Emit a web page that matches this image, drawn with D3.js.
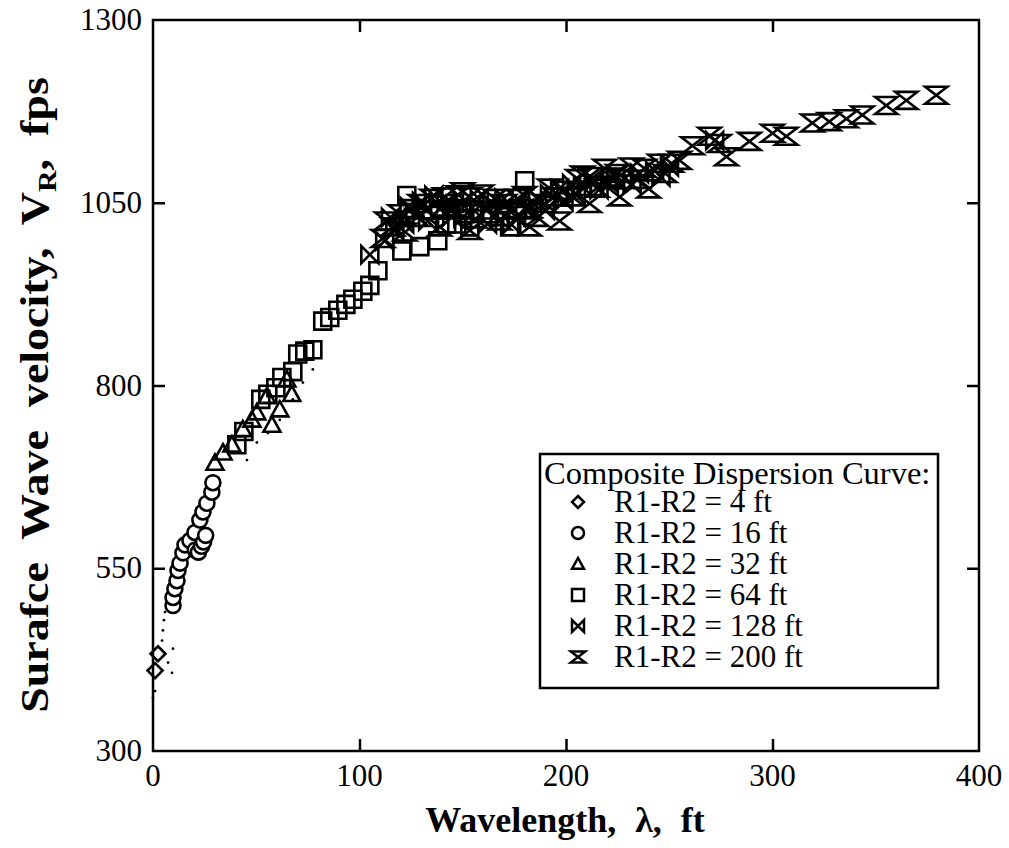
<!DOCTYPE html>
<html>
<head>
<meta charset="utf-8">
<script src="https://cdn.jsdelivr.net/npm/d3@7"></script>
<style>
	body { margin: 0; background: #fff; }
	text { font-family: "Liberation Serif", "Times New Roman", serif; fill: #000; }
</style>
</head>
<body>
<script>
// wavelength (ft), velocity (fps)
var diamond4 = [[1.0,410],[2.4,433]];
var circle16 = [[9.7,499],[9.7,510],[10.6,522],[11.6,533],[12.1,547],[13.1,557],[14.5,571],[15.5,582],
	[17.9,588],[20.3,599],[20.5,575],[22.0,572],[22.7,616],[23.5,580],[24.2,627],[24.5,586],[25.5,595],
	[26.1,639],[28.5,654],[29.0,667]];
var triangle32 = [[30,694],[33.9,708],[38.2,719],[43.5,740],[47.9,753],[50.3,763],[55.2,785],[57.6,746],
	[61.4,767],[64.8,808],[67.2,788]];
var square64 = [[40.6,719],[44.0,737],[52.2,781],[55.6,788],[59.5,797],[62.4,811],[67.7,819],[70.1,843],
	[73.5,847],[77.4,849],[82.2,888],[85.6,893],[89.5,903],[93.4,911],[96.8,918],[101.6,929],[105,937],
	[108.9,957],[120.5,984],[122.9,1060],[129.2,990],[137.9,998],[142.2,1021],[146,1049],[147.1,1021],
	[151,1035],[153.4,1017],[163,1035],[167.9,1031],[172.7,1017],[176.6,1042],[180,1080]];
var bowtie128 = [[105,979],[112.2,998],[115,1030],[117.1,1012],[121.9,1021],[124,1045],[126.8,1035],
	[130,1052],[133,1025],[136,1060],[138.8,1042],[142,1050],[144.7,1031],[149.5,1049],[150,1030],
	[155.8,1039],[158,1055],[162,1021],[164,1048],[167.9,1039],[170,1056],[173.7,1020],[176,1030],
	[180,1042],[184,1050],[186.3,1056],[190,1040],[192,1062],[196.9,1069],[199,1052],[202.7,1076],
	[205,1060],[208,1072],[213.8,1080],[216,1068],[221,1076],[224,1088],[228.4,1083],[232,1075],
	[235.6,1090],[242.9,1094],[246,1085],[250.1,1099],[272,1135]];
var hourglass200 = [[111.3,1001],[113,1025],[116.1,1017],[119.5,1035],[122,1010],[125.3,1042],[128,1030],
	[129.2,1049],[132,1040],[135,1056],[138.8,1017],[141.3,1058],[144,1040],[147.6,1061],[150,1065],
	[153.4,1058],[153.4,1012],[156,1028],[159.2,1062],[162,1040],[165.5,1056],[168,1025],[170.3,1049],
	[174,1040],[176.6,1056],[180,1060],[182.4,1042],[182.4,1017],[186,1030],[189.6,1049],[192,1070],
	[194.5,1058],[196.9,1025],[199.3,1067],[203,1058],[205.6,1083],[208,1088],[211.4,1086],[211.4,1049],
	[215,1070],[218.7,1097],[222,1085],[225,1090],[226,1058],[231.7,1099],[235,1082],[238,1097],
	[240,1069],[245.3,1104],[248,1090],[251.1,1104],[255,1108],[261.2,1128],[269.5,1141],[274.3,1131],
	[277.7,1113],[288.8,1134],[300,1145],[306.7,1141],[319.3,1159],[327.5,1161],[335.8,1165],
	[343.5,1170],[355.1,1183],[364.8,1190],[379.3,1197]];
// small dots trailing the curve
var dots = [[0,373],[1,382],[4.4,451],[4.8,465],[5.3,479],[5.8,490],[7.3,421],[9.7,440],[9.2,407],
	[45.5,698],[50.3,722],[55.6,735],[61.4,753],[67.7,781],[72.6,804],[77.4,822]];

var xTicks = [0,100,200,300,400];
var yTicks = [300,550,800,1050,1300];
var legendTitle = "Composite Dispersion Curve:";
var legendLabels = ["R1-R2 = 4 ft","R1-R2 = 16 ft","R1-R2 = 32 ft","R1-R2 = 64 ft","R1-R2 = 128 ft","R1-R2 = 200 ft"];

var W = 1009, H = 848;
var mL = 153, mR = 979, mT = 20, mB = 751;

var svg = d3.select("body").append("svg").attr("width", W).attr("height", H);
var x = d3.scaleLinear().domain([0,400]).range([mL,mR]);
var y = d3.scaleLinear().domain([300,1300]).range([mB,mT]);

// marker shapes, s = half size
var shapes = {
	diamond: function(s){ return "M0,"+(-s)+"L"+s+",0L0,"+s+"L"+(-s)+",0Z"; },
	triangle: function(s){ return "M0,"+(-s)+"L"+s+","+(s*0.8)+"L"+(-s)+","+(s*0.8)+"Z"; },
	square: function(s){ return "M"+(-s)+","+(-s)+"H"+s+"V"+s+"H"+(-s)+"Z"; },
	bowtie: function(s){ return "M"+(-s)+","+(-s)+"L"+(-s)+","+s+"L"+s+","+(-s)+"L"+s+","+s+"Z"; },
	hourglass: function(s){ return "M"+(-s*1.3)+","+(-s)+"L"+(s*1.3)+","+(-s)+"L"+(-s*1.3)+","+s+"L"+(s*1.3)+","+s+"Z"; }
};

var g = svg.append("g");

function plotPath(data, shape, s){
	g.selectAll(null).data(data).enter().append("path")
		.attr("transform", function(d){ return "translate("+x(d[0])+","+y(d[1])+")"; })
		.attr("d", shapes[shape](s))
		.attr("fill", "none").attr("stroke", "#000").attr("stroke-width", 2.6)
		.attr("stroke-linejoin", "miter");
}

g.selectAll(null).data(dots).enter().append("circle")
	.attr("cx", function(d){ return x(d[0]); }).attr("cy", function(d){ return y(d[1]); })
	.attr("r", 1.4).attr("fill", "#000");
plotPath(diamond4, "diamond", 7.5);
plotPath(triangle32, "triangle", 8.5);
plotPath(square64, "square", 8.5);
g.selectAll(null).data(circle16).enter().append("circle")
	.attr("cx", function(d){ return x(d[0]); }).attr("cy", function(d){ return y(d[1]); })
	.attr("r", 7.5).attr("fill", "#fff").attr("stroke", "#000").attr("stroke-width", 2.6);
plotPath(bowtie128, "bowtie", 8.5);
plotPath(hourglass200, "hourglass", 8.5);

// frame and inside ticks
svg.append("rect").attr("x", mL).attr("y", mT).attr("width", mR-mL).attr("height", mB-mT)
	.attr("fill", "none").attr("stroke", "#000").attr("stroke-width", 2.5);

var tk = 12;
svg.append("g").attr("transform", "translate(0,"+mB+")")
	.call(d3.axisTop(x).tickValues(xTicks.slice(1,-1)).tickSize(tk).tickFormat(""))
	.call(function(a){ a.select(".domain").remove(); });
svg.append("g").attr("transform", "translate(0,"+mT+")")
	.call(d3.axisBottom(x).tickValues(xTicks.slice(1,-1)).tickSize(tk).tickFormat(""))
	.call(function(a){ a.select(".domain").remove(); });
svg.append("g").attr("transform", "translate("+mL+",0)")
	.call(d3.axisRight(y).tickValues(yTicks.slice(1,-1)).tickSize(tk).tickFormat(""))
	.call(function(a){ a.select(".domain").remove(); });
svg.append("g").attr("transform", "translate("+mR+",0)")
	.call(d3.axisLeft(y).tickValues(yTicks.slice(1,-1)).tickSize(tk).tickFormat(""))
	.call(function(a){ a.select(".domain").remove(); });
svg.selectAll(".tick line").attr("stroke", "#000").attr("stroke-width", 2.5);

// tick labels
svg.selectAll(null).data(xTicks).enter().append("text")
	.attr("x", function(d){ return x(d); }).attr("y", 786)
	.attr("text-anchor", "middle").attr("font-size", 31).text(function(d){ return d; });
svg.selectAll(null).data(yTicks).enter().append("text")
	.attr("x", 142).attr("y", function(d){ return y(d) + 10; })
	.attr("text-anchor", "end").attr("font-size", 31).text(function(d){ return d; });

// axis titles
svg.append("text").attr("x", 565).attr("y", 832).attr("text-anchor", "middle")
	.attr("font-size", 36).attr("font-weight", "bold").attr("word-spacing", 10)
	.text("Wavelength, \u03bb, ft");
var yt = svg.append("text").attr("transform", "translate(48,395) rotate(-90) scale(1.15,1)")
	.attr("text-anchor", "middle").attr("font-size", 40).attr("font-weight", "bold").attr("word-spacing", 10);
yt.append("tspan").text("Surafce Wave velocity, V");
yt.append("tspan").attr("font-size", 26).attr("dy", 8).text("R");
yt.append("tspan").attr("dy", -8).text(", fps");

// legend
var lg = svg.append("g");
lg.append("rect").attr("x", 540).attr("y", 454).attr("width", 398).attr("height", 234)
	.attr("fill", "#fff").attr("stroke", "#000").attr("stroke-width", 2.5);
lg.append("text").attr("x", 544).attr("y", 484).attr("font-size", 32.5).text(legendTitle);
var legShapes = ["diamond","circle","triangle","square","bowtie","hourglass"];
legShapes.forEach(function(s, i){
	var cy = 502 + i*31;
	if (s == "circle")
		lg.append("circle").attr("cx", 578).attr("cy", cy).attr("r", 6)
			.attr("fill", "none").attr("stroke", "#000").attr("stroke-width", 2.5);
	else
		lg.append("path").attr("transform", "translate(578,"+cy+")")
			.attr("d", shapes[s](s == "hourglass" ? 5.5 : 6))
			.attr("fill", "none").attr("stroke", "#000").attr("stroke-width", 2.5);
	lg.append("text").attr("x", 614).attr("y", cy + 10).attr("font-size", 31).text(legendLabels[i]);
});
</script>
</body>
</html>
